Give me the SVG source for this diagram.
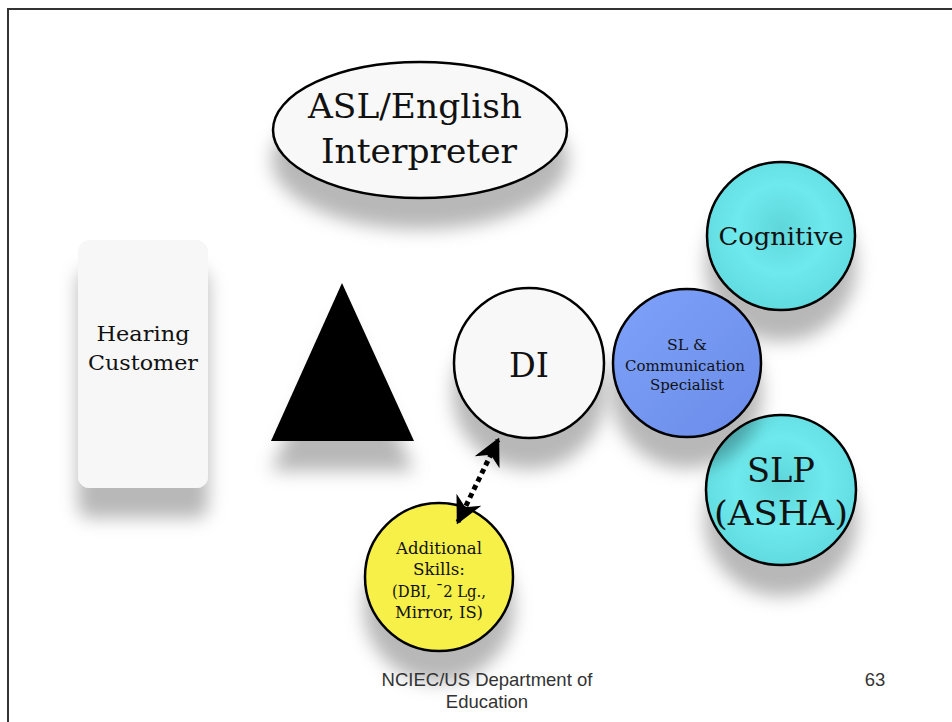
<svg xmlns="http://www.w3.org/2000/svg" width="952" height="722" viewBox="0 0 952 722">
<defs>
<style>
.tw{font-family:"DejaVu Serif","Liberation Serif",serif;fill:#111;text-anchor:middle}
.ft{font-family:"Liberation Sans",Arial,sans-serif;fill:#333;font-size:18.5px;text-anchor:middle}
.ol{stroke:#000;stroke-width:2.5}
</style>
<filter id="sh" x="-40%" y="-40%" width="180%" height="200%">
<feGaussianBlur in="SourceAlpha" stdDeviation="9"/>
<feOffset dx="0" dy="30" result="b"/>
<feFlood flood-color="#000" flood-opacity="0.28"/>
<feComposite in2="b" operator="in"/>
<feMerge><feMergeNode/><feMergeNode in="SourceGraphic"/></feMerge>
</filter>
<radialGradient id="cy" cx="0.5" cy="0.45" r="0.6">
<stop offset="0" stop-color="#5fd6da"/>
<stop offset="0.5" stop-color="#6ee9ed"/>
<stop offset="1" stop-color="#5ed8dc"/>
</radialGradient>
<linearGradient id="bl" x1="0" y1="0" x2="1" y2="1">
<stop offset="0" stop-color="#7ea2fa"/>
<stop offset="1" stop-color="#6a8ce9"/>
</linearGradient>
<marker id="ah" viewBox="0 0 10 10" refX="9" refY="5" markerWidth="5.5" markerHeight="5.5" orient="auto-start-reverse" markerUnits="strokeWidth">
<path d="M0,0 L10,5 L0,10 L3,5 z" fill="#000"/>
</marker>
</defs>
<rect width="952" height="722" fill="#fff"/>
<path d="M8,722 V9 H952" fill="none" stroke="#333" stroke-width="2"/>

<g id="interpreter">
<ellipse cx="420" cy="130" rx="147" ry="68" fill="#f8f8f8" class="ol" filter="url(#sh)"/>
<text class="tw" x="415" y="118" font-size="33" textLength="214" lengthAdjust="spacingAndGlyphs">ASL/English</text>
<text class="tw" x="419" y="163" font-size="33" textLength="196" lengthAdjust="spacingAndGlyphs">Interpreter</text>
</g>

<g id="hearing">
<rect x="78" y="240" width="130" height="248" rx="12" fill="#f7f7f7" filter="url(#sh)"/>
<text class="tw" x="143" y="341" font-size="21" textLength="93" lengthAdjust="spacingAndGlyphs">Hearing</text>
<text class="tw" x="143" y="370" font-size="21" textLength="110" lengthAdjust="spacingAndGlyphs">Customer</text>
</g>

<g id="triangle">
<polygon points="342,283 271,441 414,441" fill="#000" filter="url(#sh)"/>
</g>

<g id="cognitive">
<circle cx="781" cy="236" r="74" fill="url(#cy)" class="ol" filter="url(#sh)"/>
<text class="tw" x="781" y="245" font-size="25" textLength="125" lengthAdjust="spacingAndGlyphs">Cognitive</text>
</g>

<g id="slp">
<circle cx="781" cy="490" r="75" fill="url(#cy)" class="ol" filter="url(#sh)"/>
<text class="tw" x="781" y="482" font-size="33" textLength="68" lengthAdjust="spacingAndGlyphs">SLP</text>
<text class="tw" x="781" y="525" font-size="33" textLength="134" lengthAdjust="spacingAndGlyphs">(ASHA)</text>
</g>

<g id="sl">
<circle cx="687" cy="363" r="74" fill="url(#bl)" class="ol" filter="url(#sh)"/>
<text class="tw" x="687" y="350" font-size="14" textLength="40" lengthAdjust="spacingAndGlyphs">SL &amp;</text>
<text class="tw" x="685" y="371" font-size="14" textLength="120" lengthAdjust="spacingAndGlyphs">Communication</text>
<text class="tw" x="687" y="390" font-size="14" textLength="74" lengthAdjust="spacingAndGlyphs">Specialist</text>
</g>

<g id="di">
<circle cx="529" cy="363" r="75" fill="#f8f8f8" class="ol" filter="url(#sh)"/>
<text class="tw" x="529" y="377" font-size="33" textLength="40" lengthAdjust="spacingAndGlyphs">DI</text>
</g>

<g id="skills">
<circle cx="439" cy="577" r="74" fill="#f7f04a" class="ol" filter="url(#sh)"/>
<text class="tw" x="439" y="554" font-size="16" textLength="86" lengthAdjust="spacingAndGlyphs">Additional</text>
<text class="tw" x="439" y="575" font-size="16" textLength="52" lengthAdjust="spacingAndGlyphs">Skills:</text>
<text class="tw" x="439" y="597" font-size="16" textLength="94" lengthAdjust="spacingAndGlyphs">(DBI, ˉ2 Lg.,</text>
<text class="tw" x="439" y="618" font-size="16" textLength="88" lengthAdjust="spacingAndGlyphs">Mirror, IS)</text>
</g>

<g id="connectors">
<line x1="458" y1="522" x2="498" y2="440" stroke="#000" stroke-width="5" stroke-dasharray="5,4" marker-start="url(#ah)" marker-end="url(#ah)"/>
</g>

<g id="footer">
<text class="ft" x="487" y="686">NCIEC/US Department of</text>
<text class="ft" x="487" y="708">Education</text>
<text class="ft" x="875" y="686">63</text>
</g>
</svg>
